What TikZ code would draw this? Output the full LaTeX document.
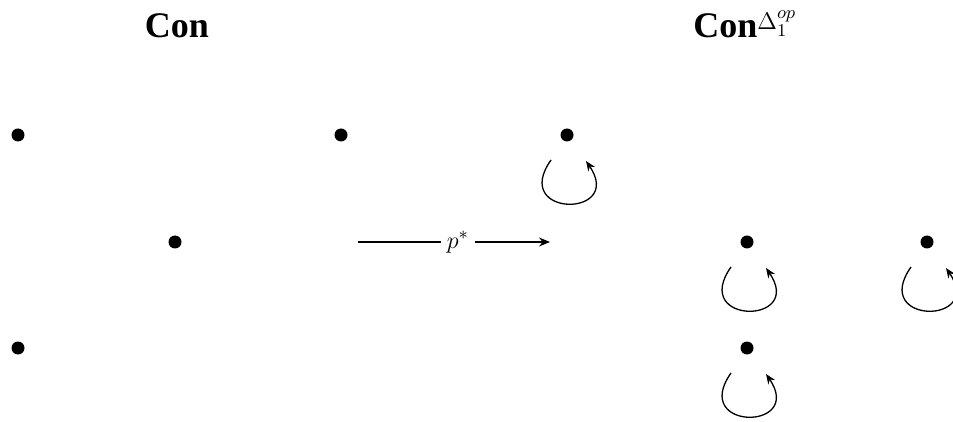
\documentclass[tikz,border=0pt]{standalone}
\usepackage{fontspec}
\setmainfont{Liberation Serif}
\usetikzlibrary{arrows.meta}
\begin{document}
\begin{tikzpicture}[x=0.5pt,y=-0.5pt,
  pt/.style={circle,fill=black,inner sep=0pt,minimum size=6.5pt},
  loopline/.style={line width=0.65pt,-{Stealth[length=5pt,width=4pt]}},
  ttl/.style={font=\fontsize{18}{20}\selectfont\bfseries,inner sep=0pt,anchor=base}]
\useasboundingbox (0,0) rectangle (953,422);
\node[ttl] (t1) at (177,38) {Con};
\node[ttl,anchor=base west] (t2) at (693,38) {Con\raisebox{4pt}{\fontsize{13}{15}\selectfont$\Delta_1^{op}$}};
\node[pt] (a1) at (18,135) {};
\node[pt] (a2) at (341,135) {};
\node[pt] (a3) at (175,242) {};
\node[pt] (a4) at (18,348) {};
\node[pt] (b1) at (567,135) {};
\node[pt] (b2) at (747,242) {};
\node[pt] (b3) at (927,242) {};
\node[pt] (b4) at (747,348) {};
\coordinate (s) at (358,242);
\coordinate (e) at (550,242);
\draw[line width=0.65pt,-{Stealth[length=5.5pt,width=4.5pt]}] (s) -- node[pos=0.52,fill=white,inner sep=3pt,font=\fontsize{13}{15}\selectfont] (lbl) {$p^*$} (e);
\foreach \n in {b1,b2,b3,b4}{
  \draw[loopline] ([shift={(-16,25)}]\n.center) .. controls ([shift={(-57,83)}]\n.center) and ([shift={(58,83)}]\n.center) .. ([shift={(19,26)}]\n.center);
}
\end{tikzpicture}
\end{document}
